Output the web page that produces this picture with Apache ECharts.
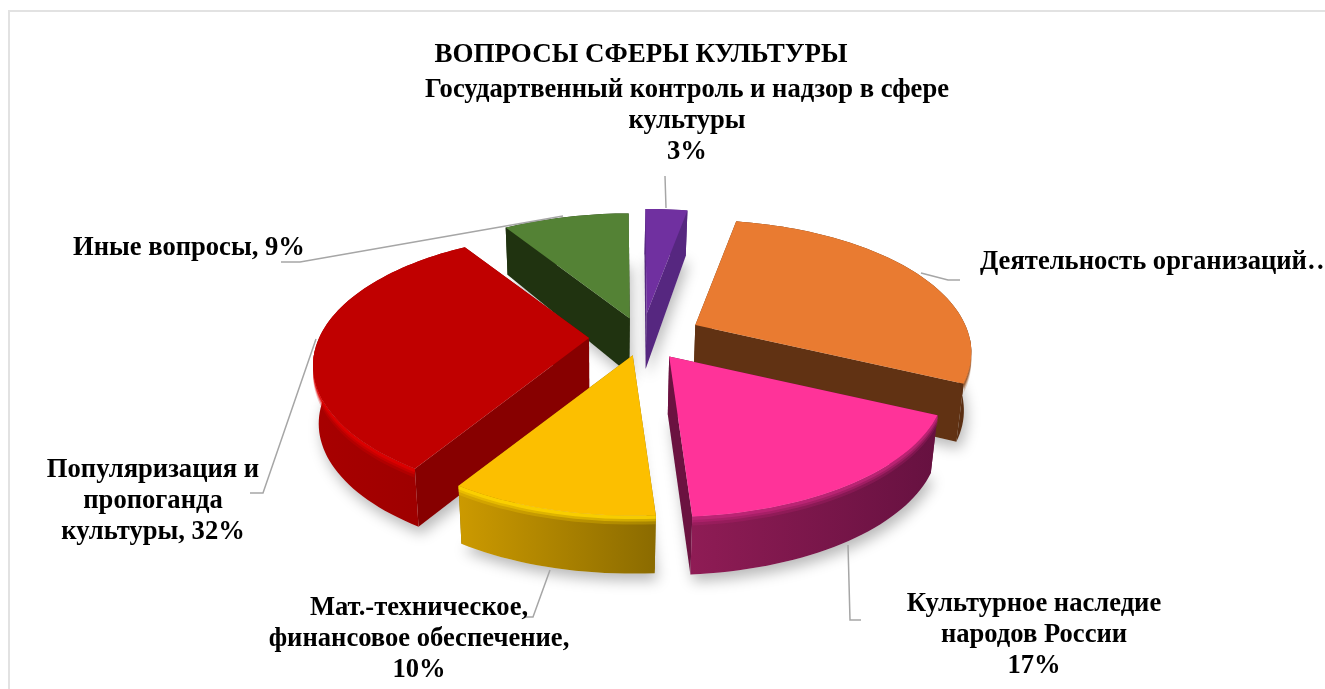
<!DOCTYPE html>
<html><head><meta charset="utf-8">
<style>html,body{margin:0;padding:0;background:#fff}#c{width:1325px;height:689px}</style>
<script src="https://cdn.jsdelivr.net/npm/echarts@6/dist/echarts.min.js"></script>
</head><body><div id="c"></div>
<script>
var TITLE = 'ВОПРОСЫ СФЕРЫ КУЛЬТУРЫ';
var CATEGORIES = ['Государтвенный контроль и надзор в сфере\nкультуры', 'Деятельность организаций…', 'Культурное наследие\nнародов России', 'Мат.-техническое,\nфинансовое обеспечение,', 'Популяризация и\nпропоганда\nкультуры,', 'Иные вопросы,'];
var VALUES = [3, 29, 17, 10, 32, 9];
var SHOW_VALUE = [true, false, true, true, true, true];
var VALUE_SEP = ['\n', '', '\n', '\n', ' ', ' '];

// look
var TOP = ['#7030A0', '#E97B31', '#FF3399', '#FCBF00', '#C00000', '#548235'];
var SIDE = ['#562780', '#613213', '#6B1240', '#8B6B00', '#870000', '#203310'];
var ARC = [['#562780', '#562780'], ['#613213', '#5A2E12'], ['#8F1C55', '#661140'], ['#CC9A00', '#8B6B00'], ['#A80000', '#9A0000'], ['#203310', '#203310']];
var RIM = ['#562780', '#9A5525', '#C02578', '#FFD400', '#E00000', '#548235'];
var EXPLODE = [51, 60, 48, 38, 53, 43];
var LABEL_AT = [[687, 90, 'center'], [980, 262, 'left'], [1034, 604, 'center'], [419, 608, 'center'], [153, 470, 'center'], [73, 248, 'left']];
var LEADER = [
  [[665, 176], [666, 208]],
  [[921, 273], [948, 280], [960, 280]],
  [[848, 545], [850, 620], [861, 620]],
  [[550, 570], [533, 617], [524, 617]],
  [[316, 339], [263, 493], [250, 493]],
  [[563, 216], [300, 262], [281, 262]]
];
var FONT = '"Liberation Serif","Times New Roman",serif';
var FONT_SIZE = 26.6, TITLE_SIZE = 27, LINE = 31;
var CX = 642, CY = 338, RX = 270, RY = 127, PERSP = 0.2076, START = -0.005;

var total = VALUES.reduce(function (a, b) { return a + b; }, 0);
var cum = 0;
var SPANS = VALUES.map(function (v) {
  var a = START + cum / total * 2 * Math.PI; cum += v;
  return [a, START + cum / total * 2 * Math.PI];
});
var order = VALUES.map(function (_, i) { return i; }).sort(function (p, q) {
  return Math.cos((SPANS[q][0] + SPANS[q][1]) / 2) - Math.cos((SPANS[p][0] + SPANS[p][1]) / 2);
});

function onDisc(apex, t) {
  var w = 1 + PERSP * Math.cos(t);
  return [apex[0] + RX * Math.sin(t) / w, apex[1] - RY * Math.cos(t) / w];
}
function below(p) {
  var d = Math.min(58, 46 + (p[1] - 214) * 0.09);
  return [600 + (p[0] - 600) * 0.98, p[1] + d];
}
function arc(apex, a, b) {
  var n = Math.max(2, Math.ceil((b - a) / 0.03)), out = [];
  for (var i = 0; i <= n; i++) out.push(onDisc(apex, a + (b - a) * i / n));
  return out;
}

function renderItem(params, api) {
  var i = params.dataIndex, span = SPANS[i], mid = (span[0] + span[1]) / 2;
  var e = EXPLODE[i];
  var apex = [CX + e * Math.sin(mid), CY - e * RY / RX * Math.cos(mid)];
  var rank = order.indexOf(i) * 10 + 10;
  var rim = arc(apex, span[0], span[1]);
  var bottomRim = rim.map(below);
  var apexB = below(apex);
  var kids = [];
  // soft shadow on the page
  kids.push({ type: 'polygon', z2: 1, shape: { points: [apexB].concat(bottomRim) },
    style: { fill: '#ddd', shadowColor: 'rgba(0,0,0,0.28)', shadowBlur: 14, shadowOffsetX: 3, shadowOffsetY: 7 } });
  // radial walls
  [0, 1].forEach(function (k) {
    var p = k === 0 ? rim[0] : rim[rim.length - 1];
    kids.push({ type: 'polygon', z2: rank, shape: { points: [apex, p, below(p), apexB] }, style: { fill: SIDE[i] } });
  });
  // outer wall
  kids.push({ type: 'polygon', z2: rank + 1, shape: { points: rim.concat(bottomRim.slice().reverse()) },
    style: { fill: new echarts.graphic.LinearGradient(0, 0, 1, 0, [{ offset: 0, color: ARC[i][0] }, { offset: 1, color: ARC[i][1] }]) } });
  // bevel along the visible rim: stacked bands fading away from the edge
  var near = rim.filter(function (p) { return p[1] > apex[1] + 10; });
  if (near.length > 2) {
    [[9, 0.25], [6, 0.45], [3.5, 0.8]].forEach(function (band) {
      var low = near.map(function (p) { return [p[0], p[1] + band[0]]; }).reverse();
      kids.push({ type: 'polygon', z2: rank + 2, shape: { points: near.concat(low) }, style: { fill: RIM[i], opacity: band[1] } });
    });
  }
  // top face
  kids.push({ type: 'polygon', z2: rank + 3, shape: { points: [apex].concat(rim) }, style: { fill: TOP[i] } });
  // leader and label
  kids.push({ type: 'polyline', z2: 900, shape: { points: LEADER[i] }, style: { fill: null, stroke: '#A6A6A6', lineWidth: 1.5 } });
  var at = LABEL_AT[i];
  kids.push({ type: 'text', z2: 1000, style: {
    x: at[0], y: at[1] - LINE / 2, text: CATEGORIES[i] + (SHOW_VALUE[i] ? VALUE_SEP[i] + api.value(0) + '%' : ''),
    fill: '#000', fontFamily: FONT, fontWeight: 'bold', fontSize: FONT_SIZE, lineHeight: LINE, align: at[2], verticalAlign: 'top'
  } });
  return { type: 'group', children: kids };
}

var chart = echarts.init(document.getElementById('c'), null, { renderer: 'canvas' });
chart.setOption({
  animation: false,
  backgroundColor: '#fff',
  title: { text: TITLE, left: 636, top: 37, textAlign: 'center',
    textStyle: { fontFamily: FONT, fontWeight: 'bold', fontSize: TITLE_SIZE, color: '#000' } },
  graphic: [{ type: 'polyline', z: -1, shape: { points: [[9, 700], [9, 11], [1330, 11]] },
    style: { fill: null, stroke: '#E2E2E2', lineWidth: 2 } }],
  series: [{
    type: 'custom', coordinateSystem: 'none', silent: true, renderItem: renderItem,
    data: VALUES.map(function (v, i) { return { name: CATEGORIES[i], value: v }; })
  }]
});
</script></body></html>
